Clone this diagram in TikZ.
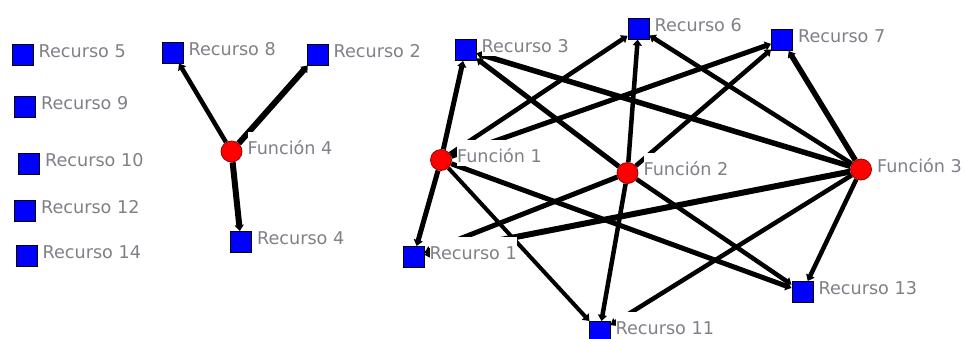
\documentclass[tikz,border=0pt]{standalone}
\usepackage{fontspec}
\setmainfont{DejaVu Sans}
\usetikzlibrary{arrows.meta}
\pgfdeclarelayer{background}
\pgfsetlayers{background,main}
\definecolor{labgray}{RGB}{128,128,136}
\definecolor{nodeblue}{RGB}{0,0,255}
\definecolor{nodered}{RGB}{255,0,0}
\definecolor{reddark}{RGB}{150,0,0}
\tikzset{
  res/.style={rectangle,draw=black,line width=1pt,fill=nodeblue,minimum size=21pt,inner sep=0pt},
  fun/.style={circle,draw=reddark,line width=0.8pt,fill=nodered,minimum size=21pt,inner sep=0pt},
  lab/.style={anchor=base west,fill=white,text=labgray,inner xsep=0pt,inner ysep=0pt,
    text height=22.5pt,text depth=3pt,font=\fontsize{17.6}{20}\selectfont},
  edge/.style={draw=black,line width=4.5pt,-{Triangle[length=6pt,width=9pt]}},
}
\newcommand{\reslab}[2]{\node[lab] (#1-l) at ([xshift=5pt,yshift=-2.5pt]#1.east) {#2};}
\begin{document}
\begin{tikzpicture}[x=1pt,y=-1pt]
\path[use as bounding box] (0,0) rectangle (965,338);
\clip (0,0) rectangle (965,338);
% isolated resources
\node[res] (r5) at (22.5,55) {};
\node[res] (r9) at (25,107) {};
\node[res] (r10) at (29,164) {};
\node[res] (r12) at (25,211) {};
\node[res] (r14) at (26.5,255.5) {};
% function 4 group
\node[res] (r8) at (172.5,52.5) {};
\node[res] (r2) at (317.5,54.5) {};
\node[fun] (f4) at (231.5,151.5) {};
\node[res] (r4) at (241,242) {};
% main group
\node[res] (r3) at (465.5,50) {};
\node[res] (r6) at (638.5,28.5) {};
\node[res] (r7) at (782,40) {};
\node[fun] (f1) at (441,160) {};
\node[fun] (f2) at (627.5,173) {};
\node[fun] (f3) at (861,169.5) {};
\node[res] (r1) at (413.5,257) {};
\node[res] (r11) at (599.5,332) {};
\node[res] (r13) at (802.5,292) {};
\begin{pgfonlayer}{background}
\draw[edge] (f4) -- (r8);
\draw[edge,line width=6pt] (f4) -- (r2);
\draw[edge,line width=6pt] (f4) -- (r4);
\draw[edge,line width=5pt] (f1) -- (r3);
\draw[edge,line width=5pt] (f1) -- (r1);
\draw[edge] (f1) -- (r6);
\draw[edge,line width=5pt] (f1) -- (r7);
\draw[edge,line width=4pt] (f1) -- (r11);
\draw[edge,line width=5pt] (f1) -- (r13);
\draw[edge,line width=5pt] (f2) -- (r3);
\draw[edge] (f2) -- (r6);
\draw[edge] (f2) -- (r7);
\draw[edge,line width=5pt] (f2) -- (r1);
\draw[edge] (f2) -- (r11);
\draw[edge] (f2) -- (r13);
\draw[edge,line width=5.5pt] (f3) -- (r3);
\draw[edge] (f3) -- (r6);
\draw[edge,line width=5.5pt] (f3) -- (r7);
\draw[edge,line width=6pt] (f3) -- (r1);
\draw[edge] (f3) -- (r11);
\draw[edge] (f3) -- (r13);
\end{pgfonlayer}
\reslab{r5}{Recurso 5}
\reslab{r9}{Recurso 9}
\reslab{r10}{Recurso 10}
\reslab{r12}{Recurso 12}
\reslab{r14}{Recurso 14}
\reslab{r8}{Recurso 8}
\reslab{r2}{Recurso 2}
\reslab{f4}{Función 4}
\reslab{r4}{Recurso 4}
\reslab{r3}{Recurso 3}
\reslab{r6}{Recurso 6}
\reslab{r7}{Recurso 7}
\reslab{f1}{Función 1}
\reslab{f2}{Función 2}
\reslab{f3}{Función 3}
\reslab{r1}{Recurso 1}
\reslab{r11}{Recurso 11}
\reslab{r13}{Recurso 13}
\end{tikzpicture}
\end{document}
